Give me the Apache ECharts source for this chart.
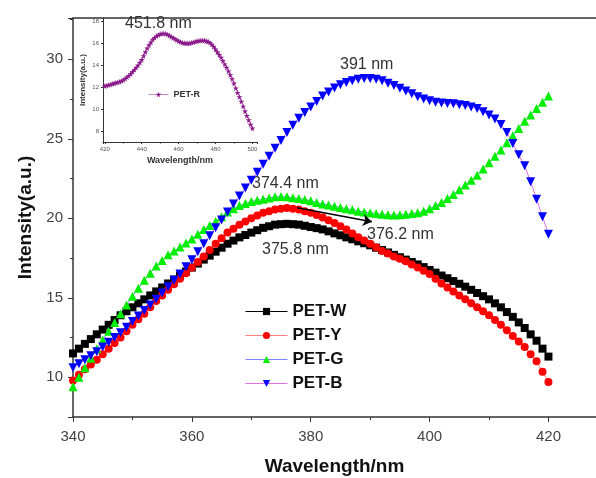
<!DOCTYPE html>
<html>
<head>
<meta charset="utf-8">
<script src="https://cdn.jsdelivr.net/npm/echarts@6/dist/echarts.min.js"></script>
<style>
  html, body { margin: 0; padding: 0; background: #fff; }
  #chart-container { width: 596px; height: 478px; }
</style>
</head>
<body>
<div id="chart-container"></div>
<script>
// wavelengths (nm) of the main plot and of the inset
var wlMain = [];
for (var w = 340; w <= 420; w++) wlMain.push(w);
var wlInset = [];
for (var w2 = 420; w2 <= 500; w2++) wlInset.push(w2);

// PET-W, 340..420 nm
var petW = [11.5, 11.8, 12.1, 12.4, 12.7, 13.0, 13.3, 13.6, 13.9, 14.15, 14.4, 14.65, 14.9, 15.15, 15.4, 15.65, 15.9, 16.15, 16.4, 16.65,
  16.9, 17.15, 17.4, 17.65, 17.9, 18.15, 18.4, 18.6, 18.8, 18.95, 19.1, 19.25, 19.4, 19.5, 19.6, 19.63, 19.65, 19.63, 19.6, 19.53,
  19.45, 19.38, 19.3, 19.18, 19.05, 18.93, 18.8, 18.68, 18.55, 18.43, 18.3, 18.15, 18.0, 17.85, 17.7, 17.55, 17.4, 17.25, 17.1, 16.93,
  16.75, 16.58, 16.4, 16.23, 16.05, 15.88, 15.7, 15.5, 15.3, 15.1, 14.9, 14.65, 14.4, 14.1, 13.8, 13.45, 13.1, 12.7, 12.3, 11.8, 11.3];
// PET-Y
var petY = [9.8, 10.15, 10.5, 10.8, 11.1, 11.45, 11.8, 12.15, 12.5, 12.9, 13.3, 13.65, 14.0, 14.4, 14.8, 15.15, 15.5, 15.85, 16.2, 16.55,
  16.9, 17.25, 17.6, 18.0, 18.4, 18.75, 19.1, 19.35, 19.6, 19.8, 20.0, 20.18, 20.35, 20.45, 20.55, 20.6, 20.65, 20.6, 20.55, 20.45,
  20.35, 20.2, 20.05, 19.88, 19.7, 19.5, 19.3, 19.05, 18.8, 18.6, 18.4, 18.18, 17.95, 17.78, 17.6, 17.45, 17.3, 17.1, 16.9, 16.7,
  16.5, 16.2, 15.9, 15.65, 15.4, 15.15, 14.9, 14.65, 14.4, 14.15, 13.9, 13.6, 13.3, 12.95, 12.6, 12.25, 11.9, 11.45, 11.0, 10.35, 9.7];
// PET-G
var petG = [9.4, 10.0, 10.6, 11.2, 11.8, 12.35, 12.9, 13.45, 14.0, 14.55, 15.1, 15.6, 16.1, 16.55, 17.0, 17.35, 17.7, 17.95, 18.2, 18.45,
  18.7, 19.0, 19.3, 19.55, 19.8, 20.1, 20.4, 20.6, 20.8, 20.93, 21.05, 21.13, 21.2, 21.28, 21.35, 21.37, 21.35, 21.3, 21.25, 21.18,
  21.1, 21.0, 20.9, 20.83, 20.75, 20.68, 20.6, 20.53, 20.45, 20.4, 20.35, 20.3, 20.25, 20.22, 20.2, 20.22, 20.25, 20.3, 20.35, 20.45,
  20.6, 20.8, 21.0, 21.25, 21.5, 21.8, 22.1, 22.4, 22.7, 23.1, 23.5, 23.9, 24.3, 24.75, 25.2, 25.65, 26.1, 26.5, 26.9, 27.3, 27.7];
// PET-B
var petB = [10.6, 10.85, 11.1, 11.35, 11.6, 11.9, 12.2, 12.5, 12.8, 13.15, 13.5, 13.85, 14.2, 14.55, 14.9, 15.3, 15.7, 16.1, 16.5, 16.95,
  17.4, 17.9, 18.4, 18.9, 19.4, 19.9, 20.4, 20.9, 21.4, 21.9, 22.4, 22.9, 23.4, 23.9, 24.4, 24.9, 25.4, 25.85, 26.3, 26.65,
  27.0, 27.35, 27.7, 27.95, 28.2, 28.4, 28.55, 28.65, 28.75, 28.8, 28.8, 28.75, 28.65, 28.5, 28.35, 28.18, 28.0, 27.83, 27.65, 27.5,
  27.4, 27.3, 27.25, 27.22, 27.2, 27.15, 27.1, 27.0, 26.9, 26.7, 26.5, 26.25, 25.9, 25.4, 24.7, 24.0, 23.3, 22.3, 21.2, 20.1, 19.0];
// PET-R (inset), 420..500 nm
var petR = [12.1, 12.15, 12.2, 12.25, 12.3, 12.35, 12.4, 12.45, 12.5, 12.57, 12.65, 12.77, 12.9, 13.05, 13.2, 13.4, 13.6, 13.8, 14.0, 14.25,
  14.5, 14.85, 15.2, 15.55, 15.85, 16.1, 16.35, 16.5, 16.65, 16.75, 16.85, 16.88, 16.9, 16.87, 16.8, 16.7, 16.6, 16.5, 16.4, 16.3,
  16.2, 16.12, 16.05, 16.02, 16.0, 16.0, 16.0, 16.05, 16.1, 16.15, 16.2, 16.23, 16.25, 16.25, 16.25, 16.2, 16.15, 16.05, 15.9, 15.7,
  15.45, 15.2, 14.95, 14.7, 14.4, 14.1, 13.8, 13.45, 13.1, 12.75, 12.35, 11.9, 11.5, 11.1, 10.7, 10.25, 9.8, 9.4, 9.0, 8.6, 8.25];

// arrow from the PET-Y peak (wavelength, intensity)
var arrowFrom = [377.7, 20.66];
var arrowTo = [390.3, 19.78];

function pairs(xs, ys) {
  return xs.map(function (x, i) { return [x, ys[i]]; });
}

var dom = document.getElementById('chart-container');
var myChart = echarts.init(dom, null, { renderer: 'canvas' });

var font = 'Liberation Sans, Arial, sans-serif';
var axisColor = '#333';
var star = 'path://M50,0 L61,35 L98,35 L68,57 L79,91 L50,70 L21,91 L32,57 L2,35 L39,35 Z';

var option = {
  animation: false,
  backgroundColor: '#fff',
  textStyle: { fontFamily: font },
  grid: [
    { left: 73, top: 18, right: 0, bottom: 61, outerBoundsMode: 'none' },
    { left: 103, top: 18, width: 154, height: 124, outerBoundsMode: 'none' }
  ],
  legend: [
    {
      data: ['PET-W', 'PET-Y', 'PET-G', 'PET-B'],
      orient: 'vertical',
      left: 245,
      top: 302,
      padding: 0,
      itemWidth: 42,
      itemHeight: 9,
      itemGap: 5,
      lineStyle: { width: 1 },
      textStyle: { fontSize: 17, fontWeight: 'bold', color: '#111', fontFamily: font, lineHeight: 19 }
    },
    {
      data: ['PET-R'],
      left: 148,
      top: 90,
      padding: 0,
      itemWidth: 20,
      itemHeight: 7,
      lineStyle: { width: 1 },
      textStyle: { fontSize: 9, fontWeight: 'bold', color: '#333', fontFamily: font }
    }
  ],
  xAxis: [
    {
      type: 'value', gridIndex: 0, min: 340, max: 428,
      name: 'Wavelength/nm', nameLocation: 'middle', nameGap: 40,
      nameTextStyle: { fontSize: 19, fontWeight: 'bold', color: '#111', fontFamily: font },
      axisLine: { lineStyle: { color: axisColor, width: 1.5 } },
      axisTick: { length: 5, lineStyle: { color: axisColor } },
      minorTick: { show: true, splitNumber: 2, length: 3, lineStyle: { color: axisColor } },
      axisLabel: { fontSize: 15, color: '#444', margin: 12, showMaxLabel: false },
      splitLine: { show: false }
    },
    {
      type: 'value', gridIndex: 0, min: 340, max: 428, position: 'top',
      axisLine: { lineStyle: { color: axisColor, width: 1.5 } },
      axisTick: { show: false }, axisLabel: { show: false }, splitLine: { show: false }
    },
    {
      type: 'value', gridIndex: 1, min: 419, max: 502.5,
      name: 'Wavelength/nm', nameLocation: 'middle', nameGap: 14,
      nameTextStyle: { fontSize: 9, fontWeight: 'bold', color: '#333', fontFamily: font },
      axisLine: { lineStyle: { color: axisColor, width: 1 } },
      axisTick: { length: 2, lineStyle: { color: axisColor } },
      minorTick: { show: true, splitNumber: 2, length: 1.5, lineStyle: { color: axisColor } },
      axisLabel: { fontSize: 6, color: '#555', margin: 4, showMinLabel: false, showMaxLabel: false },
      splitLine: { show: false }
    }
  ],
  yAxis: [
    {
      type: 'value', gridIndex: 0, min: 7.5, max: 32.6,
      name: 'Intensity(a.u.)', nameLocation: 'middle', nameGap: 36,
      nameTextStyle: { fontSize: 19, fontWeight: 'bold', color: '#111', fontFamily: font },
      axisLine: { show: true, lineStyle: { color: axisColor, width: 1.5 } },
      axisTick: { show: true, length: 5, lineStyle: { color: axisColor } },
      minorTick: { show: true, splitNumber: 2, length: 3, lineStyle: { color: axisColor } },
      axisLabel: { fontSize: 15, color: '#444', margin: 10, showMinLabel: false, showMaxLabel: false },
      splitLine: { show: false }
    },
    {
      type: 'value', gridIndex: 1, min: 7, max: 18.3,
      name: 'Intensity(a.u.)', nameLocation: 'middle', nameGap: 16,
      nameTextStyle: { fontSize: 8, fontWeight: 'bold', color: '#333', fontFamily: font },
      axisLine: { show: true, lineStyle: { color: axisColor, width: 1 } },
      axisTick: { show: true, length: 2, lineStyle: { color: axisColor } },
      axisLabel: { fontSize: 6, color: '#555', margin: 4, showMinLabel: false, showMaxLabel: false },
      splitLine: { show: false }
    }
  ],
  series: [
    {
      name: 'PET-W', type: 'line', xAxisIndex: 0, yAxisIndex: 0,
      data: pairs(wlMain, petW),
      symbol: 'rect', symbolSize: 8,
      itemStyle: { color: '#000' },
      lineStyle: { color: '#000', width: 1 }
    },
    {
      name: 'PET-Y', type: 'line', xAxisIndex: 0, yAxisIndex: 0,
      data: pairs(wlMain, petY),
      symbol: 'circle', symbolSize: 8,
      itemStyle: { color: '#ff0000' },
      lineStyle: { color: '#ff8080', width: 1 },
      markLine: {
        silent: true,
        symbol: ['none', 'arrow'],
        symbolSize: 9,
        label: { show: false },
        lineStyle: { color: '#000', width: 1.5, type: 'solid' },
        data: [[{ coord: arrowFrom }, { coord: arrowTo }]]
      }
    },
    {
      name: 'PET-G', type: 'line', xAxisIndex: 0, yAxisIndex: 0,
      data: pairs(wlMain, petG),
      symbol: 'triangle', symbolSize: 9,
      itemStyle: { color: '#00ee00' },
      lineStyle: { color: '#8080ff', width: 1 }
    },
    {
      name: 'PET-B', type: 'line', xAxisIndex: 0, yAxisIndex: 0,
      data: pairs(wlMain, petB),
      symbol: 'triangle', symbolRotate: 180, symbolSize: 9,
      itemStyle: { color: '#0000ff' },
      lineStyle: { color: '#e070e0', width: 1 }
    },
    {
      name: 'PET-R', type: 'line', xAxisIndex: 2, yAxisIndex: 1,
      data: pairs(wlInset, petR),
      symbol: star, symbolSize: 6,
      itemStyle: { color: '#8b1a8b' },
      lineStyle: { color: '#c890c8', width: 1 }
    }
  ],
  graphic: [
    { type: 'text', left: 125, top: 16, style: { text: '451.8 nm', font: '16px ' + font, fill: '#333' } },
    { type: 'text', left: 340, top: 57, style: { text: '391 nm', font: '16px ' + font, fill: '#333' } },
    { type: 'text', left: 252, top: 176, style: { text: '374.4 nm', font: '16px ' + font, fill: '#333' } },
    { type: 'text', left: 367, top: 227, style: { text: '376.2 nm', font: '16px ' + font, fill: '#333' } },
    { type: 'text', left: 262, top: 242, style: { text: '375.8 nm', font: '16px ' + font, fill: '#333' } }
  ]
};

if (option && typeof option === 'object') {
  myChart.setOption(option);
}

window.addEventListener('resize', myChart.resize);
</script>
</body>
</html>
